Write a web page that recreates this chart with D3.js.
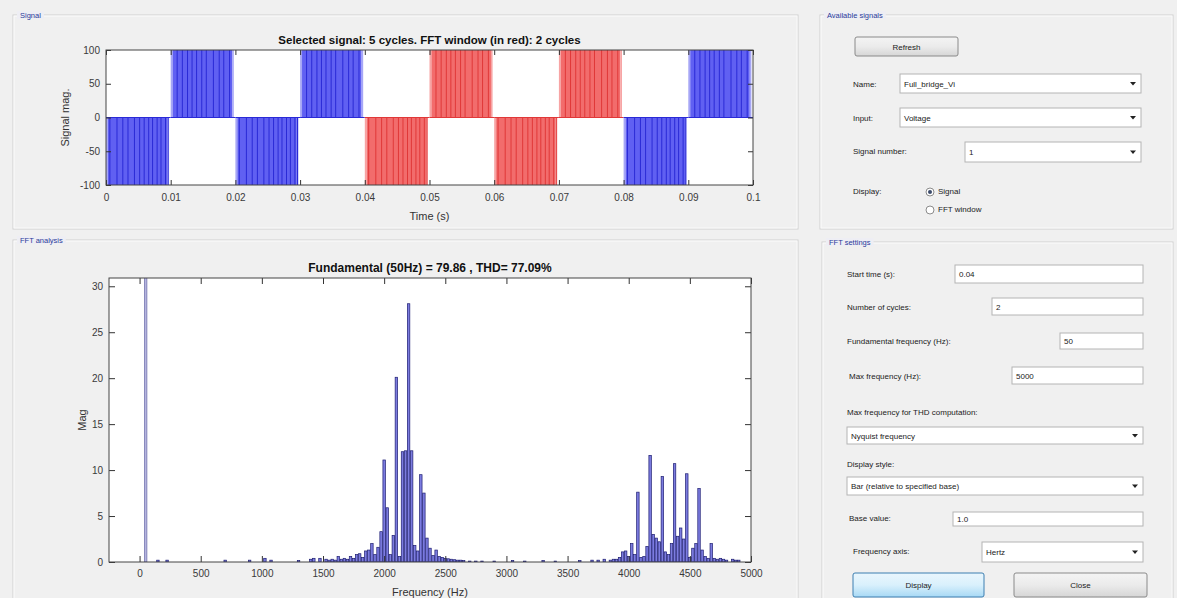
<!DOCTYPE html>
<html>
<head>
<meta charset="utf-8">
<script src="https://cdn.jsdelivr.net/npm/d3@7/dist/d3.min.js"></script>
<style>
  body { margin: 0; background: #f0f0f0; }
  svg { display: block; font-family: "Liberation Sans", Arial, sans-serif; }
</style>
</head>
<body>
<svg id="gui"></svg>
<script>
// selected signal: 5 cycles of the full bridge output voltage
const timeTicks = [0, 0.01, 0.02, 0.03, 0.04, 0.05, 0.06, 0.07, 0.08, 0.09, 0.1];
const magTicks = [-100, -50, 0, 50, 100];
const halfCycleStart = [0, 0.01, 0.02, 0.03, 0.04, 0.05, 0.06, 0.07, 0.08, 0.09];
const halfCycleSign = [-1, 1, -1, 1, -1, 1, -1, 1, -1, 1];
const fftWindow = [0.04, 0.08];
// switching edges seen inside a half cycle (fraction of the half cycle)
const negEdges = [0.06, 0.17, 0.26, 0.34, 0.44, 0.52, 0.59, 0.66, 0.72, 0.79, 0.85, 0.92, 0.96];
const posEdges = [0.1, 0.18, 0.26, 0.33, 0.4, 0.48, 0.55, 0.66, 0.75, 0.82, 0.91];

// FFT of the window, bar per harmonic (25 Hz resolution)
const freqTicks = [0, 500, 1000, 1500, 2000, 2500, 3000, 3500, 4000, 4500, 5000];
const specTicks = [0, 5, 10, 15, 20, 25, 30];
const harmonicHz = [
  50, 150, 225, 700, 900, 1025, 1075, 1300, 1400, 1425, 1475, 1525, 1550, 1575, 1600,
  1625, 1650, 1675, 1700, 1725, 1750, 1775, 1800, 1825, 1850, 1875, 1900, 1925, 1950,
  1975, 2000, 2025, 2050, 2075, 2100, 2125, 2150, 2175, 2200, 2225, 2250, 2275, 2300,
  2325, 2350, 2375, 2400, 2425, 2450, 2475, 2500, 2525, 2550, 2575, 2600, 2625, 2650,
  2700, 2750, 2800, 2900, 3050, 3150, 3300, 3400, 3600, 3700, 3750, 3800, 3850, 3875,
  3900, 3925, 3950, 3975, 4000, 4025, 4050, 4075, 4100, 4125, 4150, 4175, 4200, 4225,
  4250, 4275, 4300, 4325, 4350, 4375, 4400, 4425, 4450, 4475, 4500, 4525, 4550, 4575,
  4600, 4625, 4650, 4675, 4700, 4725, 4750, 4775, 4800, 4850, 4875, 4900
];
const harmonicMag = [
  79.86, 0.2, 0.2, 0.2, 0.2, 0.4, 0.2, 0.15, 0.3, 0.4, 0.4, 0.3, 0.2, 0.3, 0.2,
  0.6, 0.3, 0.4, 0.3, 0.6, 0.4, 0.8, 0.9, 0.5, 1.2, 1.3, 2.0, 0.8, 1.6,
  3.3, 11.1, 5.9, 0.8, 2.9, 20.1, 0.6, 12.0, 12.1, 28.1, 12.1, 1.8, 1.2, 9.5,
  7.5, 2.6, 1.5, 0.7, 1.3, 0.6, 0.5, 0.4, 0.35, 0.3, 0.25, 0.2, 0.2, 0.15,
  0.1, 0.1, 0.1, 0.1, 0.15, 0.1, 0.15, 0.1, 0.15, 0.2, 0.2, 0.3, 0.2, 0.3,
  0.3, 0.5, 1.1, 1.2, 0.6, 2.0, 0.8, 7.6, 0.5, 0.6, 1.7, 11.6, 3.0, 2.6,
  2.2, 9.3, 1.1, 0.8, 2.0, 10.7, 2.8, 3.7, 2.5, 9.6, 0.5, 1.5, 2.0, 8.0,
  1.3, 0.6, 0.4, 2.0, 0.4, 0.3, 0.4, 0.3, 0.2, 0.3, 0.2, 0.2
];

const width = 1177, height = 598;
const svg = d3.select("#gui").attr("width", width).attr("height", height);
svg.append("rect").attr("width", width).attr("height", height).attr("fill", "#f0f0f0");

// ---------- panels ----------
function panel(x, y, w, h, label) {
  const g = svg.append("g");
  g.append("rect").attr("x", x).attr("y", y).attr("width", w).attr("height", h)
    .attr("fill", "none").attr("stroke", "#d0d0d0");
  g.append("rect").attr("x", x + 1).attr("y", y + 1).attr("width", w - 2).attr("height", h - 2)
    .attr("fill", "none").attr("stroke", "#fbfbfb");
  const t = g.append("text").attr("x", x + 7).attr("y", y + 3)
    .attr("font-size", 7.5).attr("fill", "#2a3a9a").text(label);
  const bw = t.node().getComputedTextLength();
  g.insert("rect", "text").attr("x", x + 4).attr("y", y - 4).attr("width", bw + 6).attr("height", 8)
    .attr("fill", "#eeeef4");
}
panel(13, 15, 785, 214, "Signal");
panel(13, 240, 785, 370, "FFT analysis");
panel(820, 15, 353, 214, "Available signals");
panel(822, 242, 351, 370, "FFT settings");

// ---------- signal plot ----------
const sig = { left: 106, right: 753, top: 50, bottom: 185 };
const xT = d3.scaleLinear([timeTicks[0], timeTicks[timeTicks.length - 1]], [sig.left, sig.right]);
const yS = d3.scaleLinear([-100, 100], [sig.bottom, sig.top]);
const hp = halfCycleStart[1] - halfCycleStart[0];

svg.append("rect").attr("x", sig.left).attr("y", sig.top)
  .attr("width", sig.right - sig.left).attr("height", sig.bottom - sig.top).attr("fill", "#fff");

const blocks = halfCycleStart.map((t0, i) => ({
  t0, t1: t0 + hp, sign: halfCycleSign[i],
  red: t0 >= fftWindow[0] - 1e-9 && t0 < fftWindow[1] - 1e-9
}));

const sg = svg.append("g");
blocks.forEach(b => {
  const fill = b.red ? "#f26c6c" : "#6060f2";
  const light = b.red ? "#f7a4a4" : "#a6a6f6";
  const dark = b.red ? "#e03838" : "#2a2ad6";
  const yTop = Math.min(yS(0), yS(100 * b.sign)), h = Math.abs(yS(100 * b.sign) - yS(0));
  sg.append("rect").attr("x", xT(b.t0)).attr("y", yTop)
    .attr("width", xT(b.t0 + 0.03 * hp) - xT(b.t0)).attr("height", h).attr("fill", light);
  sg.append("rect").attr("x", xT(b.t0 + 0.03 * hp)).attr("y", yTop)
    .attr("width", xT(b.t0 + 0.95 * hp) - xT(b.t0 + 0.03 * hp)).attr("height", h).attr("fill", fill);
  sg.append("rect").attr("x", xT(b.t0 + 0.95 * hp)).attr("y", yTop)
    .attr("width", xT(b.t0 + 0.975 * hp) - xT(b.t0 + 0.95 * hp)).attr("height", h).attr("fill", light);
  sg.selectAll(null).data(b.sign < 0 ? negEdges : posEdges).join("line")
    .attr("x1", f => xT(b.t0 + f * hp)).attr("x2", f => xT(b.t0 + f * hp))
    .attr("y1", yS(0)).attr("y2", yS(100 * b.sign))
    .attr("stroke", dark).attr("stroke-width", 1);
  sg.append("line").attr("x1", xT(b.t0)).attr("x2", xT(b.t1)).attr("y1", yS(0)).attr("y2", yS(0))
    .attr("stroke", dark).attr("stroke-width", 1);
});

function styleAxis(g) {
  g.select(".domain").remove();
  g.selectAll(".tick line").attr("stroke", "#333");
  g.selectAll(".tick text").attr("fill", "#3a3a3a").attr("font-size", 10)
    .attr("font-family", "Liberation Sans, Arial, sans-serif");
}
const fmtT = d => String(+d.toFixed(2));

svg.append("g").attr("transform", `translate(0,${sig.bottom})`)
  .call(d3.axisBottom(xT).tickValues(timeTicks).tickFormat(fmtT).tickSizeInner(-5).tickSizeOuter(0).tickPadding(9))
  .call(styleAxis);
svg.append("g").attr("transform", `translate(0,${sig.top})`)
  .call(d3.axisTop(xT).tickValues(timeTicks).tickFormat("").tickSizeInner(-5).tickSizeOuter(0))
  .call(styleAxis);
svg.append("g").attr("transform", `translate(${sig.left},0)`)
  .call(d3.axisLeft(yS).tickValues(magTicks).tickFormat(d => String(d)).tickSizeInner(-5).tickSizeOuter(0).tickPadding(6))
  .call(styleAxis);
svg.append("g").attr("transform", `translate(${sig.right},0)`)
  .call(d3.axisRight(yS).tickValues(magTicks).tickFormat("").tickSizeInner(-5).tickSizeOuter(0))
  .call(styleAxis);
svg.append("rect").attr("x", sig.left).attr("y", sig.top)
  .attr("width", sig.right - sig.left).attr("height", sig.bottom - sig.top)
  .attr("fill", "none").attr("stroke", "#444");

svg.append("text").attr("x", (sig.left + sig.right) / 2).attr("y", 44).attr("text-anchor", "middle")
  .attr("font-size", 11.5).attr("font-weight", "bold").attr("fill", "#111")
  .text("Selected signal: 5 cycles. FFT window (in red): 2 cycles");
svg.append("text").attr("x", (sig.left + sig.right) / 2).attr("y", 220).attr("text-anchor", "middle")
  .attr("font-size", 11).attr("fill", "#333").text("Time (s)");
svg.append("text").attr("transform", `translate(69,${(sig.top + sig.bottom) / 2}) rotate(-90)`)
  .attr("text-anchor", "middle").attr("font-size", 11).attr("fill", "#333").text("Signal mag.");

// ---------- FFT plot ----------
const fft = { left: 109, right: 751, top: 278, bottom: 562 };
const xF = d3.scaleLinear([-250, 5000], [fft.left, fft.right]);
const yF = d3.scaleLinear([0, 30.9], [fft.bottom, fft.top]);

svg.append("rect").attr("x", fft.left).attr("y", fft.top)
  .attr("width", fft.right - fft.left).attr("height", fft.bottom - fft.top).attr("fill", "#fff");
svg.append("clipPath").attr("id", "fftclip").append("rect")
  .attr("x", fft.left).attr("y", fft.top).attr("width", fft.right - fft.left).attr("height", fft.bottom - fft.top);

const bars = harmonicHz.map((hz, i) => ({ hz, mag: harmonicMag[i] }));
const bw = 0.8 * (xF(25) - xF(0));
svg.append("g").attr("clip-path", "url(#fftclip)")
  .selectAll("rect").data(bars).join("rect")
  .attr("x", d => xF(d.hz) - bw / 2).attr("width", bw)
  .attr("y", d => yF(d.mag)).attr("height", d => yF(0) - yF(d.mag))
  .attr("fill", d => d.hz === 50 ? "#b4b4de" : "#7c7ce0")
  .attr("stroke", d => d.hz === 50 ? "#6a6aa8" : "#1c1c70").attr("stroke-width", 0.7);

svg.append("g").attr("transform", `translate(0,${fft.bottom})`)
  .call(d3.axisBottom(xF).tickValues(freqTicks).tickFormat(d3.format("d")).tickSizeInner(-6).tickSizeOuter(0).tickPadding(8))
  .call(styleAxis);
svg.append("g").attr("transform", `translate(0,${fft.top})`)
  .call(d3.axisTop(xF).tickValues(freqTicks).tickFormat("").tickSizeInner(-6).tickSizeOuter(0))
  .call(styleAxis);
svg.append("g").attr("transform", `translate(${fft.left},0)`)
  .call(d3.axisLeft(yF).tickValues(specTicks).tickSizeInner(-6).tickSizeOuter(0).tickPadding(6))
  .call(styleAxis);
svg.append("g").attr("transform", `translate(${fft.right},0)`)
  .call(d3.axisRight(yF).tickValues(specTicks).tickFormat("").tickSizeInner(-6).tickSizeOuter(0))
  .call(styleAxis);
svg.append("rect").attr("x", fft.left).attr("y", fft.top)
  .attr("width", fft.right - fft.left).attr("height", fft.bottom - fft.top)
  .attr("fill", "none").attr("stroke", "#444");

svg.append("text").attr("x", (fft.left + fft.right) / 2).attr("y", 272).attr("text-anchor", "middle")
  .attr("font-size", 12).attr("font-weight", "bold").attr("fill", "#111")
  .text("Fundamental (50Hz) = 79.86 , THD= 77.09%");
svg.append("text").attr("x", (fft.left + fft.right) / 2).attr("y", 596).attr("text-anchor", "middle")
  .attr("font-size", 11).attr("fill", "#333").text("Frequency (Hz)");
svg.append("text").attr("transform", `translate(86,${(fft.top + fft.bottom) / 2}) rotate(-90)`)
  .attr("text-anchor", "middle").attr("font-size", 11).attr("fill", "#333").text("Mag");

// ---------- controls ----------
function label(x, y, s) {
  svg.append("text").attr("x", x).attr("y", y + 3).attr("font-size", 8).attr("fill", "#222").text(s);
}
function edit(x0, y0, x1, y1, s) {
  svg.append("rect").attr("x", x0).attr("y", y0).attr("width", x1 - x0).attr("height", y1 - y0)
    .attr("fill", "#fff").attr("stroke", "#b4b4b4");
  svg.append("text").attr("x", x0 + 4).attr("y", (y0 + y1) / 2 + 3)
    .attr("font-size", 8).attr("fill", "#222").text(s);
}
function popup(x0, y0, x1, y1, s) {
  edit(x0, y0, x1, y1, s);
  const cx = x1 - 8, cy = (y0 + y1) / 2;
  svg.append("path").attr("d", `M${cx - 3},${cy - 1.5}L${cx + 3},${cy - 1.5}L${cx},${cy + 2}Z`).attr("fill", "#222");
}
function button(x0, y0, x1, y1, s, blue) {
  const id = "grad" + Math.round(x0);
  const gr = svg.append("linearGradient").attr("id", id).attr("x1", 0).attr("x2", 0).attr("y1", 0).attr("y2", 1);
  gr.append("stop").attr("offset", 0).attr("stop-color", blue ? "#eaf6fd" : "#f4f4f4");
  gr.append("stop").attr("offset", 0.5).attr("stop-color", blue ? "#d9f0fc" : "#ebebeb");
  gr.append("stop").attr("offset", 1).attr("stop-color", blue ? "#a7d9f5" : "#d6d6d6");
  svg.append("rect").attr("x", x0).attr("y", y0).attr("width", x1 - x0).attr("height", y1 - y0)
    .attr("rx", 2).attr("fill", `url(#${id})`).attr("stroke", blue ? "#3c7fb1" : "#8a8a8a");
  svg.append("text").attr("x", (x0 + x1) / 2).attr("y", (y0 + y1) / 2 + 3).attr("text-anchor", "middle")
    .attr("font-size", 8).attr("fill", "#222").text(s);
}

button(855, 37, 958, 56, "Refresh");
label(853, 84, "Name:");
popup(900, 74, 1141, 93, "Full_bridge_Vi");
label(853, 118, "Input:");
popup(900, 108, 1141, 127, "Voltage");
label(853, 151, "Signal number:");
popup(965, 142, 1141, 162, "1");
label(853, 191, "Display:");
svg.append("circle").attr("cx", 930).attr("cy", 192).attr("r", 4).attr("fill", "#fff").attr("stroke", "#8c8c8c");
svg.append("circle").attr("cx", 930).attr("cy", 192).attr("r", 2).attr("fill", "#3a4a6a");
label(938, 191, "Signal");
svg.append("circle").attr("cx", 930).attr("cy", 210).attr("r", 4).attr("fill", "#fff").attr("stroke", "#8c8c8c");
label(938, 209, "FFT window");

label(847, 274, "Start time (s):");
edit(955, 265, 1143, 283, "0.04");
label(847, 307, "Number of cycles:");
edit(992, 298, 1143, 315, "2");
label(847, 341, "Fundamental frequency (Hz):");
edit(1060, 333, 1143, 349, "50");
label(849, 376, "Max frequency (Hz):");
edit(1012, 367, 1143, 384, "5000");
label(847, 412, "Max frequency for THD computation:");
popup(847, 427, 1143, 444, "Nyquist frequency");
label(847, 464, "Display style:");
popup(847, 477, 1143, 495, "Bar (relative to specified base)");
label(849, 518, "Base value:");
edit(953, 512, 1143, 526, "1.0");
label(853, 551, "Frequency axis:");
popup(982, 542, 1143, 562, "Hertz");
button(853, 573, 984, 597, "Display", true);
button(1014, 573, 1147, 597, "Close");
</script>
</body>
</html>
